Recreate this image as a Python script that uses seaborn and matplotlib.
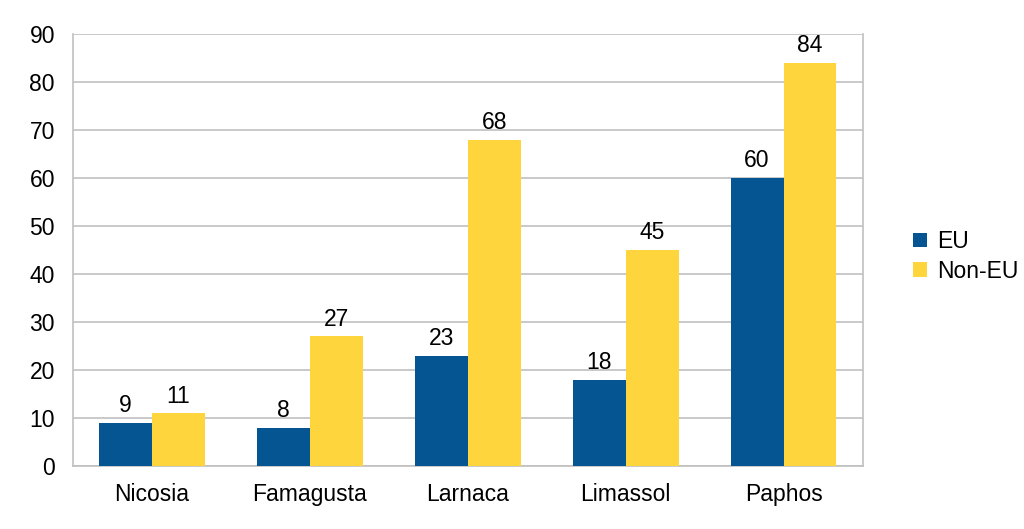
import pandas as pd
import matplotlib
matplotlib.use('Agg')
import matplotlib.pyplot as plt
import seaborn as sns

# chart values
cities = ['Nicosia', 'Famagusta', 'Larnaca', 'Limassol', 'Paphos']
eu = [9, 8, 23, 18, 60]
non_eu = [11, 27, 68, 45, 84]
groups = ['EU', 'Non-EU']
palette = ['#045592', '#fed53c']

df = pd.DataFrame({
    'city': cities * 2,
    'group': [groups[0]] * len(cities) + [groups[1]] * len(cities),
    'value': eu + non_eu,
})

sns.set_style('white')
plt.rcParams['font.family'] = ['Liberation Sans', 'DejaVu Sans']
plt.rcParams['text.color'] = 'black'
plt.rcParams['xtick.color'] = 'black'
plt.rcParams['ytick.color'] = 'black'

FS = 16.5

fig = plt.figure(figsize=(10.24, 5.29), dpi=100)
ax = fig.add_axes([0.0713, 0.119, 0.771, 0.817])

sns.barplot(data=df, x='city', y='value', hue='group', order=cities,
            hue_order=groups, palette=palette, width=0.67, saturation=1,
            linewidth=0, ax=ax, zorder=3)

for c in ax.containers:
    ax.bar_label(c, fmt='%d', padding=4, fontsize=FS)

ax.set_ylim(0, 90)
ax.set_yticks(range(0, 91, 10))
ax.set_xlim(-0.5, len(cities) - 0.5)
ax.yaxis.grid(True, color='#c0c0c0', linewidth=1.2, zorder=0)
ax.set_axisbelow(True)
ax.set_xlabel('')
ax.set_ylabel('')

for s in ['left', 'bottom', 'right']:
    ax.spines[s].set_color('#c0c0c0')
    ax.spines[s].set_linewidth(1.2)
ax.spines['top'].set_visible(False)

ax.tick_params(axis='y', length=8, color='#c0c0c0', width=1.2, labelsize=FS, pad=5)
ax.tick_params(axis='x', length=0, labelsize=FS, pad=12)
ax.set_xticks([i + 0.5 for i in range(-1, len(cities))], minor=True)
ax.tick_params(axis='x', which='minor', length=8, color='#c0c0c0', width=1.2)

handles, labels = ax.get_legend_handles_labels()
ax.legend(handles, labels, loc='center left', bbox_to_anchor=(1.038, 0.485),
          frameon=False, fontsize=FS, handlelength=0.6, handleheight=0.6,
          handletextpad=0.45, labelspacing=0.28)

fig.savefig('out.png', dpi=100)
